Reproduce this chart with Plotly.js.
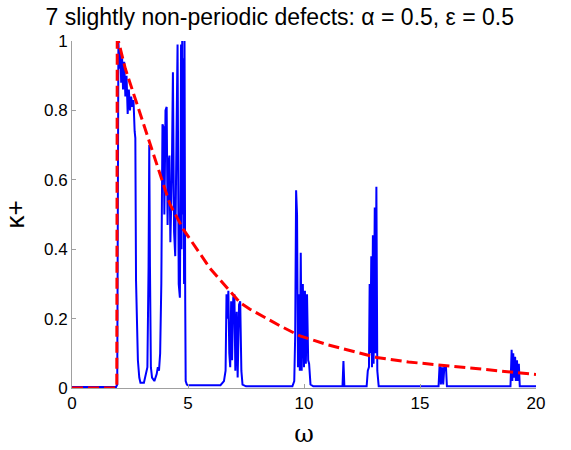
<!DOCTYPE html>
<html>
<head>
<meta charset="utf-8">
<script src="https://cdn.plot.ly/plotly-3.0.1.min.js"></script>
<style>html,body{margin:0;padding:0;background:#fff;}#chart{width:571px;height:450px;}</style>
</head>
<body>
<div id="chart"></div>
<script>
// Blue curve: kappa+ vs omega
const blueOmega = [0, 1.9, 1.95, 1.98, 2.0, 2.04, 2.08, 2.12, 2.16, 2.2, 2.25, 2.3, 2.35, 2.4, 2.45, 2.5, 2.55, 2.6, 2.65, 2.7, 2.73, 2.76, 2.8, 2.84, 2.9, 2.95, 3.1, 3.2, 3.25, 3.3, 3.33, 3.36, 3.4, 3.45, 3.55, 3.65, 3.7, 3.75, 3.8, 3.85, 3.9, 3.95, 3.98, 4.0, 4.03, 4.08, 4.12, 4.16, 4.2, 4.24, 4.3, 4.35, 4.4, 4.45, 4.5, 4.55, 4.6, 4.65, 4.68, 4.7, 4.72, 4.75, 4.77, 4.8, 4.83, 4.85, 4.88, 4.9, 4.95,
  5.0, 6.4, 6.55, 6.62, 6.66, 6.7, 6.74, 6.78, 6.82, 6.86, 6.9, 6.95, 7.0, 7.04, 7.1, 7.14, 7.2, 7.25, 7.3, 7.35, 7.5,
  9.5, 9.58, 9.62, 9.66, 9.7, 9.74, 9.78, 9.82, 9.86, 9.9, 9.95, 10.0, 10.04, 10.08, 10.13, 10.18, 10.22, 10.28, 10.4,
  11.66, 11.7, 11.74, 12.7, 12.75, 12.8, 12.83, 12.86, 12.9, 12.93, 12.97, 13.0, 13.05, 13.08, 13.12, 13.16, 13.22,
  15.8, 15.84, 15.88, 15.9, 15.96, 16.0, 16.05, 16.12, 16.16,
  18.9, 18.95, 18.98, 19.02, 19.05, 19.1, 19.13, 19.18, 19.22, 19.26, 19.3, 20];
const blueKappa = [0.003, 0.003, 0.01, 0.5, 1.0, 0.92, 0.98, 0.88, 0.95, 0.86, 0.94, 0.84, 0.9, 0.79, 0.86, 0.8, 0.84, 0.81, 0.83, 0.74, 0.72, 0.31, 0.15, 0.08, 0.03, 0.015, 0.015, 0.04, 0.06, 0.35, 0.7, 0.35, 0.06, 0.03, 0.02, 0.04, 0.06, 0.05, 0.1, 0.3, 0.76, 0.75, 0.5, 0.6, 0.8, 0.81, 0.47, 0.65, 0.67, 0.42, 0.6, 0.91, 0.45, 0.38, 0.7, 0.99, 0.3, 0.26, 0.6, 0.99, 0.4, 1.0, 0.5, 0.95, 0.3, 1.0, 0.25, 0.02, 0.01,
  0.008, 0.008, 0.02, 0.05, 0.27, 0.2, 0.28, 0.1, 0.06, 0.25, 0.08, 0.26, 0.27, 0.05, 0.22, 0.03, 0.24, 0.25, 0.05, 0.01, 0.005,
  0.005, 0.02, 0.15, 0.57, 0.5, 0.06, 0.27, 0.05, 0.39, 0.05, 0.3, 0.06, 0.28, 0.07, 0.27, 0.08, 0.07, 0.01, 0.005,
  0.005, 0.078, 0.005, 0.005, 0.05, 0.06, 0.3, 0.1, 0.38, 0.06, 0.44, 0.07, 0.52, 0.1, 0.58, 0.05, 0.005,
  0.005, 0.06, 0.06, 0.01, 0.06, 0.01, 0.06, 0.06, 0.005,
  0.005, 0.11, 0.02, 0.1, 0.03, 0.09, 0.02, 0.08, 0.02, 0.07, 0.005, 0.005];

// Red dashed envelope
const redOmega = [0, 1.93, 1.95, 2.0, 2.3, 2.79, 3.36, 4.22, 4.8, 5.95, 7.24, 7.67, 8.97, 9.83, 11.0, 11.98, 13.13, 14.5, 16.15, 18.0, 19.87, 20];
const redKappa = [0, 0, 1.0, 1.0, 0.92, 0.82, 0.706, 0.53, 0.457, 0.345, 0.246, 0.227, 0.179, 0.15, 0.125, 0.107, 0.088, 0.075, 0.064, 0.052, 0.040, 0.039];

const xTicks = [0, 5, 10, 15, 20];
const yTicks = [0, 0.2, 0.4, 0.6, 0.8, 1];
const yTickText = ['0', '0.2', '0.4', '0.6', '0.8', '1'];

const traces = [
  {x: blueOmega, y: blueKappa, type: 'scatter', mode: 'lines', line: {color: 'rgb(0,0,255)', width: 2}, hoverinfo: 'skip'},
  {x: redOmega, y: redKappa, type: 'scatter', mode: 'lines', line: {color: 'rgb(255,0,0)', width: 3, dash: '11px,5px'}, hoverinfo: 'skip'}
];

const axisCommon = {
  showgrid: false, zeroline: false, showline: true, linecolor: 'rgb(160,160,160)', linewidth: 1,
  ticks: 'inside', ticklen: 4, tickcolor: 'rgb(160,160,160)', mirror: false,
  tickfont: {family: 'Liberation Sans, Arial, sans-serif', size: 17, color: '#000'}
};

const layout = {
  width: 571, height: 450,
  margin: {l: 72, r: 35, t: 41, b: 62},
  paper_bgcolor: '#fff', plot_bgcolor: '#fff',
  showlegend: false,
  title: {text: '7 slightly non-periodic defects: α = 0.5, ε = 0.5', font: {family: 'Liberation Sans, Arial, sans-serif', size: 23, color: '#000'},
          xref: 'container', x: 0.49, xanchor: 'center', yref: 'container', y: 0.962, yanchor: 'middle'},
  xaxis: Object.assign({}, axisCommon, {range: [0, 20], tickvals: xTicks, ticktext: xTicks.map(String),
    title: {text: 'ω', font: {family: 'DejaVu Serif, serif', size: 24, color: '#000'}, standoff: 12}}),
  yaxis: Object.assign({}, axisCommon, {range: [0, 1], tickvals: yTicks, ticktext: yTickText,
    title: {text: 'κ+', font: {family: 'Liberation Sans, Arial, sans-serif', size: 26, color: '#000'}, standoff: 22}})
};

Plotly.newPlot('chart', traces, layout, {displayModeBar: false, staticPlot: true});
</script>
</body>
</html>
